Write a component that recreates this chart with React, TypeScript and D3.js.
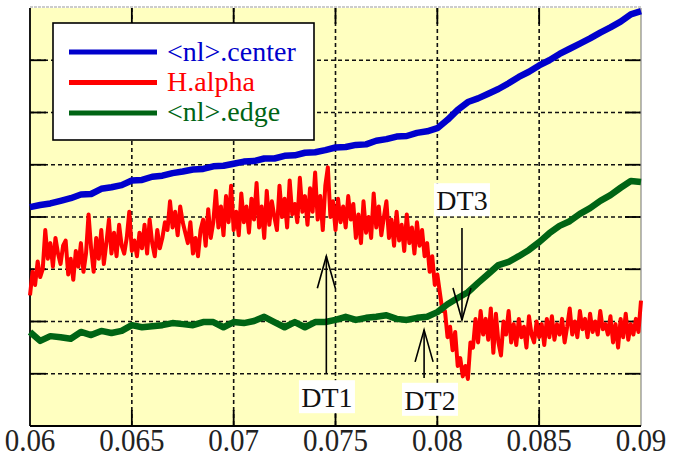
import React from "react";
import * as d3 from "d3";

const W = 675;
const H = 458;

const xTicks = [0.06, 0.065, 0.07, 0.075, 0.08, 0.085, 0.09];
const xTickLabels = ["0.06", "0.065", "0.07", "0.075", "0.08", "0.085", "0.09"];
const yGrid = [1, 2, 3, 4, 5, 6, 7];

const seriesNames = ["<nl>.center", "H.alpha", "<nl>.edge"];
const seriesColors = ["#0000CC", "#FF0000", "#006414"];

// sampled every 0.0005 from 0.06 to 0.09
const nlCenter = [
  4.19, 4.23, 4.26, 4.31, 4.36, 4.43, 4.44, 4.54, 4.57, 4.61,
  4.70, 4.71, 4.77, 4.79, 4.84, 4.87, 4.91, 4.92, 4.97, 4.98,
  5.02, 5.06, 5.07, 5.12, 5.12, 5.17, 5.18, 5.23, 5.24, 5.28,
  5.33, 5.34, 5.38, 5.39, 5.46, 5.49, 5.54, 5.55, 5.61, 5.64,
  5.70, 5.86, 6.05, 6.20, 6.27, 6.36, 6.45, 6.56, 6.68, 6.78,
  6.90, 7.00, 7.12, 7.22, 7.32, 7.42, 7.53, 7.63, 7.74, 7.88,
  7.94,
];

// sampled every 0.000125 from 0.06 to 0.09
const hAlpha = [
  2.5, 2.95, 2.7, 3.15, 2.85, 3.0,
  3.75, 3.2, 3.5, 3.05, 3.6, 3.3, 3.1, 3.45,
  3.55, 2.9, 3.2, 2.8, 3.35, 3.05, 3.5, 2.95,
  3.3, 4.05, 3.4, 2.95, 3.6, 3.2, 3.75, 3.1,
  3.5, 3.95, 3.3, 3.7, 3.25, 3.85, 3.45, 3.3,
  3.6, 4.1, 3.35, 3.55, 3.25, 3.7, 3.4, 3.85,
  3.3, 3.95, 3.5, 3.25, 3.75, 3.4, 3.6, 3.9,
  3.75, 4.3, 3.8, 4.1, 3.65, 4.2, 3.9, 3.7,
  3.5, 3.9, 3.3, 3.6, 3.25, 3.75,
  3.95, 3.45, 4.15, 3.6, 3.9,
  4.5, 3.8, 4.2, 3.65, 4.4, 3.9, 4.6, 3.75,
  4.1, 3.65, 4.45, 3.9, 4.2, 3.7, 4.35, 3.95,
  4.65, 3.8, 4.2, 3.6, 4.5, 3.85, 4.3, 4.0,
  3.75, 4.6, 4.0, 4.35, 3.8, 4.7, 4.05, 4.25,
  3.9, 4.75, 4.1, 4.4, 3.85, 4.55, 4.1,
  4.85, 3.95, 4.4, 3.75, 4.6, 4.95, 4.0, 4.3,
  3.75, 4.35, 3.9, 4.2, 3.8, 4.4, 3.95,
  4.25, 3.6, 4.05, 3.5, 4.3, 3.7, 4.0, 3.6,
  4.45, 3.8, 4.2, 3.65, 4.0,
  4.3, 3.6, 3.95, 3.45, 4.1, 3.55,
  3.85, 3.35, 4.05, 3.5, 3.8,
  3.3, 3.9, 3.45, 3.75, 3.25,
  3.5, 2.95,
  3.25, 2.7, 2.9,
  2.55, 2.2,
  2.2, 1.7, 1.9,
  1.45, 1.8, 1.15,
  1.3, 0.95,
  1.15, 0.9, 1.6,
  1.5, 2.05, 1.6,
  2.2, 1.75, 2.05, 1.65, 2.25,
  1.4, 2.15, 1.6, 1.35, 2.0, 1.75, 2.2,
  1.6, 1.95, 1.55, 2.05, 1.7, 1.9, 1.5, 2.1, 1.75, 1.6, 2.0, 1.7, 1.95, 1.55, 2.05,
  1.7, 2.1, 1.65, 1.95, 1.75, 2.05, 1.6, 1.9,
  2.25, 1.75, 2.0, 1.7, 2.2, 1.85, 2.05, 1.7,
  2.15, 1.8, 2.0, 1.75, 2.2, 1.85, 1.95, 1.75,
  2.1, 1.6, 1.95, 1.5, 2.05, 1.7, 2.15, 1.65,
  1.95, 1.75, 2.05, 1.8,
  2.4,
];

// sampled every 0.0005 from 0.06 to 0.09
const nlEdge = [
  1.80, 1.63, 1.72, 1.70, 1.67, 1.80, 1.74, 1.82, 1.78, 1.82,
  1.93, 1.89, 1.91, 1.93, 1.97, 1.95, 1.93, 1.99, 1.99, 1.89,
  1.99, 1.97, 2.01, 2.09, 1.99, 1.89, 1.99, 1.89, 1.99, 1.99,
  2.03, 2.09, 2.03, 2.07, 2.09, 2.12, 2.05, 2.03, 2.07, 2.09,
  2.18, 2.33, 2.45, 2.56, 2.74, 2.91, 3.08, 3.14, 3.25, 3.37,
  3.52, 3.69, 3.83, 3.92, 4.06, 4.17, 4.31, 4.42, 4.56, 4.69,
  4.67,
];

const annotLabels = ["DT1", "DT2", "DT3"];
const annotX = [0.07455, 0.07935, 0.08121];
const annotTail = [1.0, 0.92, 3.79];
const annotTip = [3.25, 1.84, 2.03];
const annotLabelX = [0.07458, 0.07964, 0.08121];
const annotLabelY = [0.36, 0.31, 4.13];

export default function App() {
  const left = 30, right = 641, top = 8, bottom = 426;
  const x = d3.scaleLinear().domain([0.06, 0.09]).range([left, right]);
  const y = d3.scaleLinear().domain([0, 8]).range([bottom, top]);

  const toPts = (arr: number[], step: number) =>
    arr.map((v, i) => [0.06 + i * step, v] as [number, number]);
  const line = d3
    .line<[number, number]>()
    .x((d) => x(d[0]))
    .y((d) => y(d[1]));

  const series = [
    { data: toPts(nlCenter, 0.0005), color: seriesColors[0], w: 6.5 },
    { data: toPts(hAlpha, 0.000125), color: seriesColors[1], w: 4 },
    { data: toPts(nlEdge, 0.0005), color: seriesColors[2], w: 6.5 },
  ];
  const font = "'Liberation Serif', 'DejaVu Serif', serif";
  const tf = { fontFamily: font };
  const tickLen = 16;

  return (
    <svg
      width={W}
      height={H}
      style={{ position: "absolute", left: 0, top: 0, background: "#fff" }}
    >
      <rect x={left} y={top} width={right - left} height={bottom - top} fill="#FFFFC0" />
      {yGrid.map((g) => (
        <line key={"gy" + g} x1={left} x2={right} y1={y(g)} y2={y(g)} stroke="#111" strokeWidth={1.6} strokeDasharray="4,3" />
      ))}
      {xTicks.slice(1, -1).map((t) => (
        <line key={"gx" + t} x1={x(t)} x2={x(t)} y1={top} y2={bottom} stroke="#111" strokeWidth={1.6} strokeDasharray="4,3" />
      ))}
      {yGrid.map((g) => (
        <g key={"ty" + g}>
          <line x1={left} x2={left + tickLen} y1={y(g)} y2={y(g)} stroke="#000" strokeWidth={1.8} />
          <line x1={right - tickLen} x2={right} y1={y(g)} y2={y(g)} stroke="#000" strokeWidth={1.8} />
        </g>
      ))}
      {xTicks.slice(1, -1).map((t) => (
        <g key={"tx" + t}>
          <line x1={x(t)} x2={x(t)} y1={top} y2={top + tickLen} stroke="#000" strokeWidth={1.8} />
          <line x1={x(t)} x2={x(t)} y1={bottom - tickLen} y2={bottom} stroke="#000" strokeWidth={1.8} />
        </g>
      ))}
      <line x1={left} x2={right} y1={top - 1} y2={top - 1} stroke="#999" strokeWidth={1.2} strokeDasharray="3,1" />
      <line x1={right} x2={right} y1={top} y2={bottom} stroke="#888" strokeWidth={1.2} />
      <line x1={left} x2={left} y1={top} y2={bottom} stroke="#000" strokeWidth={1.8} />
      <line x1={left} x2={right} y1={bottom} y2={bottom} stroke="#000" strokeWidth={1.8} />
      {series.map((s, i) => (
        <path key={"s" + i} d={line(s.data) || ""} fill="none" stroke={s.color} strokeWidth={s.w} strokeLinejoin="round" />
      ))}
      {annotLabels.map((lab, i) => {
        const ax = x(annotX[i]);
        const yTip = y(annotTip[i]);
        const yTail = y(annotTail[i]);
        const dir = yTail > yTip ? 1 : -1;
        const headLen = 32;
        return (
          <g key={"a" + i}>
            <line x1={ax} x2={ax} y1={yTail} y2={yTip} stroke="#000" strokeWidth={1.6} />
            <polyline
              points={`${ax - 9},${yTip + dir * headLen} ${ax},${yTip} ${ax + 9},${yTip + dir * headLen}`}
              fill="none"
              stroke="#000"
              strokeWidth={1.6}
            />
          </g>
        );
      })}
      {annotLabels.map((lab, i) => {
        const lx = x(annotLabelX[i]);
        const ly = y(annotLabelY[i]);
        return (
          <g key={"l" + i}>
            <rect x={lx - 28} y={ly - 27} width={56} height={33} fill="#fff" />
            <text x={lx} y={ly} textAnchor="middle" fontSize={28} fill="#111" style={tf}>
              {lab}
            </text>
          </g>
        );
      })}
      <rect x={53} y={23} width={261} height={117} fill="#fff" stroke="#000" strokeWidth={1.6} />
      {seriesNames.map((n, i) => (
        <g key={"lg" + i}>
          <line x1={69} x2={157} y1={52 + i * 30.5} y2={52 + i * 30.5} stroke={seriesColors[i]} strokeWidth={5} />
          <text x={167} y={61 + i * 30} fontSize={28} fill={seriesColors[i]} style={tf}>
            {n}
          </text>
        </g>
      ))}
      {xTicks.map((t, i) => (
        <text
          key={"xl" + t}
          transform={`translate(${x(t)},451) scale(1,1.1)`}
          textAnchor="middle"
          fontSize={29}
          fill="#222"
          style={tf}
        >
          {xTickLabels[i]}
        </text>
      ))}
    </svg>
  );
}
